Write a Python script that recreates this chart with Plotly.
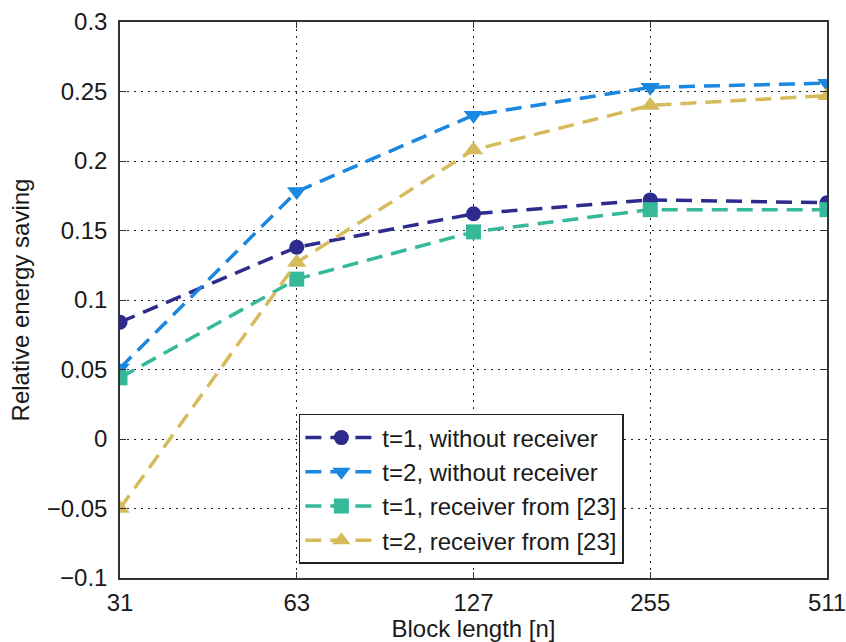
import plotly.graph_objects as go

block_lengths = ["31", "63", "127", "255", "511"]
t1_without = [0.084, 0.138, 0.162, 0.172, 0.170]
t2_without = [0.051, 0.178, 0.233, 0.253, 0.256]
t1_receiver = [0.044, 0.115, 0.149, 0.165, 0.165]
t2_receiver = [-0.050, 0.127, 0.208, 0.240, 0.247]

names = ["t=1, without receiver", "t=2, without receiver",
         "t=1, receiver from [23]", "t=2, receiver from [23]"]
colors = ["#2e2b8e", "#1a87e0", "#36b89b", "#d6bb5c"]
symbols = ["circle", "triangle-down", "square", "triangle-up"]
marker_sizes = [15, 17, 15, 17]
series = [t1_without, t2_without, t1_receiver, t2_receiver]

y_ticks = [-0.1, -0.05, 0, 0.05, 0.1, 0.15, 0.2, 0.25, 0.3]
y_ticktext = ["\u22120.1", "\u22120.05", "0", "0.05", "0.1", "0.15", "0.2", "0.25", "0.3"]

fig = go.Figure()
for name, col, sym, ms, vals in zip(names, colors, symbols, marker_sizes, series):
    fig.add_trace(go.Scatter(
        x=block_lengths, y=vals, name=name, mode="lines+markers",
        line=dict(color=col, width=3.5, dash="16px,9px"),
        marker=dict(symbol=sym, size=ms, color=col),
    ))

font_family = "Liberation Sans, Arial, sans-serif"
FS = 24
fig.update_layout(
    width=846, height=642,
    margin=dict(l=120, r=19, t=22, b=64),
    paper_bgcolor="white", plot_bgcolor="white",
    font=dict(family=font_family, size=FS, color="#1a1a1a"),
    showlegend=True,
    legend=dict(x=0.253, y=0.295, xanchor="left", yanchor="top",
                bordercolor="#222", borderwidth=1.5, bgcolor="white",
                font=dict(size=FS), tracegroupgap=0, itemwidth=72),
    xaxis=dict(type="category", range=[0, 4], showgrid=True, automargin=False,
               gridcolor="#222", griddash="2px,5px", gridwidth=1,
               showline=True, linecolor="#333", linewidth=1.5, mirror="ticks",
               ticks="inside", ticklen=6, tickcolor="#333",
               ticklabelstandoff=2,
               title=dict(text="Block length [n]", font=dict(size=FS), standoff=2),
               tickfont=dict(size=FS), zeroline=False),
    yaxis=dict(range=[-0.1, 0.3], tickvals=y_ticks, ticktext=y_ticktext,
               showgrid=True, automargin=False,
               gridcolor="#222", griddash="2px,5px", gridwidth=1,
               showline=True, linecolor="#333", linewidth=1.5, mirror="ticks",
               ticks="inside", ticklen=6, tickcolor="#333",
               ticklabelstandoff=6,
               title=dict(text="Relative energy saving", font=dict(size=FS), standoff=10),
               tickfont=dict(size=FS), zeroline=False),
)
fig.write_html("out.html")
